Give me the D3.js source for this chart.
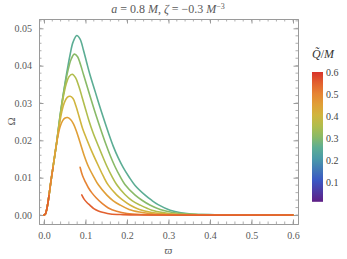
<!DOCTYPE html>
<html>
<head>
<meta charset="utf-8">
<script src="https://cdn.jsdelivr.net/npm/d3@7"></script>
<style>
  body { margin: 0; background: #fff; }
  svg { display: block; }
</style>
</head>
<body>
<div id="chart"></div>
<script>
// Q/M value of every curve (drawing order, last on top)
const qValues = [0.25, 0.30, 0.35, 0.40, 0.45, 0.50, 0.55];

// [varpi, Omega], one list per curve segment
const curveQ025 = [[0,0],[0.003,0.0002],[0.006,0.0012],[0.010,0.0036],[0.014,0.0068],[0.018,0.0100],[0.022,0.0130],[0.026,0.0160],[0.030,0.0190],[0.034,0.0225],[0.038,0.0260],[0.042,0.0292],[0.047,0.0327],[0.052,0.0362],[0.057,0.0394],[0.063,0.0430],[0.070,0.0463],[0.079,0.0481],[0.087,0.0471],[0.095,0.0442],[0.103,0.0408],[0.111,0.0375],[0.121,0.0339],[0.131,0.0303],[0.143,0.0261],[0.155,0.0221],[0.167,0.0184],[0.179,0.0153],[0.191,0.0127],[0.205,0.0102],[0.219,0.0080],[0.243,0.0054],[0.260,0.0039],[0.275,0.0028],[0.304,0.0013],[0.33,0.0006],[0.36,0.0002],[0.40,0.0001],[0.45,0],[0.6,0]];
const curveQ030 = [[0,0],[0.003,0.0002],[0.006,0.0012],[0.010,0.0036],[0.014,0.0068],[0.018,0.0100],[0.022,0.0130],[0.026,0.0160],[0.030,0.0190],[0.034,0.0224],[0.038,0.0258],[0.042,0.0290],[0.047,0.0326],[0.052,0.0357],[0.058,0.0388],[0.065,0.0416],[0.073,0.0431],[0.081,0.0424],[0.088,0.0403],[0.095,0.0377],[0.104,0.0344],[0.115,0.0304],[0.126,0.0265],[0.138,0.0225],[0.149,0.0190],[0.160,0.0158],[0.171,0.0130],[0.183,0.0104],[0.195,0.0082],[0.219,0.0054],[0.237,0.0039],[0.255,0.0027],[0.28,0.0015],[0.31,0.0007],[0.34,0.0003],[0.38,0.0001],[0.42,0],[0.6,0]];
const curveQ035 = [[0,0],[0.003,0.0002],[0.006,0.0012],[0.010,0.0036],[0.014,0.0068],[0.018,0.0100],[0.022,0.0130],[0.026,0.0160],[0.030,0.0190],[0.034,0.0222],[0.038,0.0255],[0.042,0.0286],[0.047,0.0319],[0.053,0.0349],[0.060,0.0370],[0.068,0.0377],[0.076,0.0368],[0.084,0.0345],[0.092,0.0315],[0.100,0.0284],[0.108,0.0254],[0.118,0.0221],[0.131,0.0185],[0.151,0.0132],[0.163,0.0105],[0.175,0.0082],[0.195,0.0055],[0.213,0.0038],[0.231,0.0027],[0.26,0.0013],[0.29,0.0006],[0.32,0.0002],[0.36,0.0001],[0.40,0],[0.6,0]];
const curveQ040 = [[0,0],[0.003,0.0002],[0.006,0.0012],[0.010,0.0036],[0.014,0.0068],[0.018,0.0100],[0.022,0.0130],[0.026,0.0160],[0.030,0.0190],[0.034,0.0220],[0.038,0.0248],[0.043,0.0277],[0.049,0.0301],[0.056,0.0315],[0.063,0.0318],[0.070,0.0312],[0.077,0.0292],[0.085,0.0262],[0.093,0.0232],[0.103,0.0203],[0.113,0.0176],[0.131,0.0132],[0.143,0.0104],[0.155,0.0080],[0.175,0.0054],[0.190,0.0040],[0.207,0.0027],[0.23,0.0015],[0.26,0.0007],[0.29,0.0003],[0.33,0.0001],[0.38,0],[0.6,0]];
const curveQ045 = [[0,0],[0.003,0.0002],[0.006,0.0012],[0.010,0.0036],[0.014,0.0068],[0.018,0.0100],[0.022,0.0130],[0.026,0.0160],[0.030,0.0189],[0.034,0.0214],[0.039,0.0237],[0.045,0.0253],[0.051,0.0260],[0.057,0.0261],[0.064,0.0256],[0.071,0.0244],[0.078,0.0225],[0.087,0.0194],[0.097,0.0159],[0.107,0.0130],[0.121,0.0100],[0.131,0.0081],[0.151,0.0054],[0.167,0.0038],[0.183,0.0027],[0.205,0.0015],[0.23,0.0008],[0.26,0.0003],[0.30,0.0001],[0.35,0],[0.6,0]];
const riseQ050 = [[0,0],[0.003,0.0002],[0.006,0.0012],[0.010,0.0036],[0.014,0.0068],[0.018,0.0100],[0.022,0.0128]];
const fallQ050 = [[0.087,0.0128],[0.093,0.0105],[0.100,0.0088],[0.107,0.0073],[0.115,0.0060],[0.125,0.0047],[0.140,0.0031],[0.155,0.0019],[0.175,0.0010],[0.20,0.0004],[0.24,0.0001],[0.28,0],[0.6,0]];
const riseQ055 = [[0,0],[0.003,0.0002],[0.006,0.0012],[0.010,0.0036],[0.012,0.0052]];
const fallQ055 = [[0.091,0.0054],[0.097,0.0042],[0.104,0.0033],[0.111,0.0026],[0.120,0.0017],[0.131,0.0011],[0.143,0.0007],[0.16,0.0003],[0.19,0.0001],[0.23,0],[0.6,0]];

const segmentsByQ = [
  [curveQ025], [curveQ030], [curveQ035], [curveQ040], [curveQ045],
  [riseQ050, fallQ050], [riseQ055, fallQ055]
];

const xTicks = [0, 0.1, 0.2, 0.3, 0.4, 0.5, 0.6];
const yTicks = [0, 0.01, 0.02, 0.03, 0.04, 0.05];
const legendTicks = [0.1, 0.2, 0.3, 0.4, 0.5, 0.6];

// rainbow colour stops (Q/M -> colour)
const rainbowStops = [0, 0.1, 0.2, 0.25, 0.3, 0.35, 0.4, 0.45, 0.5, 0.55, 0.6];
const rainbowColors = ["#5f1f86", "#3b58c4", "#4a9aa8", "#5cad94", "#89ba68", "#b0bd4d", "#d0b53e", "#e09f37", "#e68434", "#e2602f", "#d8332a"];

const W = 347, H = 259;
const frame = { left: 39, right: 298, top: 19, bottom: 224 };
const grey = "#9a9a9a";
const textGrey = "#5a5a5a";
const serif = "'Liberation Serif', 'Times New Roman', serif";

const svg = d3.select("#chart").append("svg")
  .attr("width", W).attr("height", H)
  .attr("font-family", serif);

const x = d3.scaleLinear().domain([-0.012, 0.612]).range([frame.left, frame.right]);
const y = d3.scaleLinear().domain([-0.0024, 0.0525]).range([frame.bottom, frame.top]);
const color = d3.scaleLinear().domain(rainbowStops).range(rainbowColors);

function styleAxis(g) {
  g.select(".domain").attr("stroke", grey);
  g.selectAll(".tick line").attr("stroke", grey);
  g.selectAll(".tick text").attr("fill", textGrey).attr("font-size", "10px").attr("font-family", serif);
}
const xMinor = d3.range(0, 0.601, 0.02);
const yMinor = d3.range(0, 0.0521, 0.002);

// minor ticks, pointing inward on all four sides
[[frame.bottom, -1], [frame.top, 1]].forEach(([yy, dir]) => {
  svg.append("g").selectAll("line").data(xMinor).join("line")
    .attr("x1", d => x(d)).attr("x2", d => x(d))
    .attr("y1", yy).attr("y2", yy + dir * 2.5)
    .attr("stroke", grey).attr("stroke-width", 0.8);
});
[[frame.left, 1], [frame.right, -1]].forEach(([xx, dir]) => {
  svg.append("g").selectAll("line").data(yMinor).join("line")
    .attr("y1", d => y(d)).attr("y2", d => y(d))
    .attr("x1", xx).attr("x2", xx + dir * 2.5)
    .attr("stroke", grey).attr("stroke-width", 0.8);
});

svg.append("g").attr("transform", `translate(0,${frame.bottom})`)
  .call(d3.axisBottom(x).tickValues(xTicks).tickSize(-4.5).tickPadding(8).tickFormat(d3.format(".1f")))
  .call(styleAxis);
svg.append("g").attr("transform", `translate(0,${frame.top})`)
  .call(d3.axisTop(x).tickValues(xTicks).tickSize(-4.5).tickFormat(""))
  .call(styleAxis);
svg.append("g").attr("transform", `translate(${frame.left},0)`)
  .call(d3.axisLeft(y).tickValues(yTicks).tickSize(-4.5).tickPadding(7).tickFormat(d3.format(".2f")))
  .call(styleAxis);
svg.append("g").attr("transform", `translate(${frame.right},0)`)
  .call(d3.axisRight(y).tickValues(yTicks).tickSize(-4.5).tickFormat(""))
  .call(styleAxis);

// curves
const line = d3.line().x(d => x(d[0])).y(d => y(d[1])).curve(d3.curveCatmullRom.alpha(0.5));
const plot = svg.append("g");
segmentsByQ.forEach((segs, i) => {
  segs.forEach(seg => {
    plot.append("path")
      .attr("d", line(seg))
      .attr("fill", "none")
      .attr("stroke", color(qValues[i]))
      .attr("stroke-width", 1.6)
      .attr("stroke-linejoin", "round")
      .attr("stroke-linecap", "round");
  });
});

// title
svg.append("text")
  .attr("x", 168).attr("y", 13)
  .attr("text-anchor", "middle")
  .attr("fill", textGrey).attr("font-size", "12px")
  .html("<tspan font-style='italic'>a</tspan> = 0.8 <tspan font-style='italic'>M</tspan>, <tspan font-style='italic'>ζ</tspan> = −0.3 <tspan font-style='italic'>M</tspan><tspan dy='-4' font-size='8px'>−3</tspan>");

// axis labels
svg.append("text")
  .attr("transform", `translate(15,${(frame.top + frame.bottom) / 2}) rotate(-90)`)
  .attr("text-anchor", "middle")
  .attr("fill", textGrey).attr("font-size", "11px")
  .text("Ω");
svg.append("text")
  .attr("x", (frame.left + frame.right) / 2).attr("y", 254)
  .attr("text-anchor", "middle")
  .attr("fill", textGrey).attr("font-size", "11px").attr("font-style", "italic")
  .text("ϖ");

// colour bar legend
const lg = { x: 312, w: 11 };
const ly = d3.scaleLinear().domain([0, 0.6]).range([204, 72]);
const defs = svg.append("defs");
const grad = defs.append("linearGradient").attr("id", "rainbow")
  .attr("x1", 0).attr("y1", 1).attr("x2", 0).attr("y2", 0);
rainbowStops.forEach((s, i) => {
  grad.append("stop").attr("offset", s / 0.6).attr("stop-color", rainbowColors[i]);
});
svg.append("rect")
  .attr("x", lg.x).attr("y", ly(0.6))
  .attr("width", lg.w).attr("height", ly(0.01) - ly(0.6))
  .attr("fill", "url(#rainbow)");
svg.append("g").selectAll("text").data(legendTicks).join("text")
  .attr("x", lg.x + lg.w + 3).attr("y", d => ly(d))
  .attr("dy", "0.35em")
  .attr("fill", "#444").attr("font-size", "10px")
  .text(d => d3.format(".1f")(d));

const legendTitle = svg.append("text")
  .attr("x", 312).attr("y", 58)
  .attr("fill", "#333").attr("font-size", "12px").attr("font-style", "italic");
legendTitle.append("tspan").text("Q\u0303");
legendTitle.append("tspan").attr("font-style", "normal").text("/");
legendTitle.append("tspan").text("M");
</script>
</body>
</html>
